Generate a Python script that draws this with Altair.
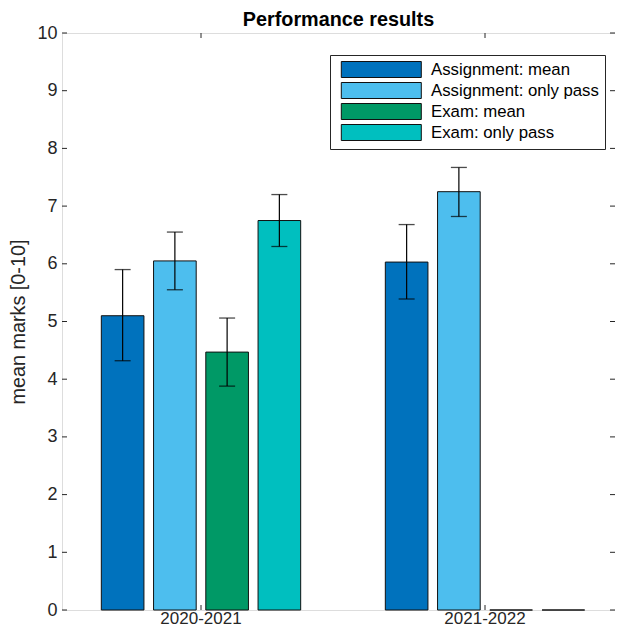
import altair as alt
import pandas as pd

years = ["2020-2021", "2021-2022"]
series = ["Assignment: mean", "Assignment: only pass", "Exam: mean", "Exam: only pass"]
colors = ["#0072BD", "#4DBEEE", "#009966", "#00BFBF"]

values_2020 = [5.10, 6.05, 4.47, 6.75]
values_2021 = [6.03, 7.25, 0.0, 0.0]
err_low_2020 = [4.32, 5.55, 3.88, 6.30]
err_high_2020 = [5.90, 6.55, 5.06, 7.20]
err_low_2021 = [5.39, 6.82, None, None]
err_high_2021 = [6.68, 7.67, None, None]

y_ticks = list(range(0, 11))

rows = []
for yr, vals, lo, hi in [
    (years[0], values_2020, err_low_2020, err_high_2020),
    (years[1], values_2021, err_low_2021, err_high_2021),
]:
    for s, v, l, h in zip(series, vals, lo, hi):
        rows.append({"year": yr, "series": s, "value": v, "lo": l, "hi": h})
df = pd.DataFrame(rows)
err_df = df.dropna(subset=["lo", "hi"])
ticks_df = pd.DataFrame({"t": y_ticks})
years_df = pd.DataFrame({"year": years})

FONT = "Liberation Sans"
W, H = 553, 577

xscale = alt.Scale(domain=years, range=[-3, 565], paddingInner=0, paddingOuter=0)
xenc = alt.X("year:N", sort=years, scale=xscale,
             axis=alt.Axis(title=None, labelAngle=0, tickSize=0, domain=False,
                           labelFontSize=17, labelFont=FONT, labelColor="#262626",
                           labelPadding=0))
xoff = alt.XOffset("series:N", sort=series,
                   scale=alt.Scale(domain=series, paddingInner=0.184, paddingOuter=0.81))
yscale = alt.Scale(domain=[0, 10], nice=False)

bars = alt.Chart(df).mark_bar(stroke="#111111", strokeWidth=1, opacity=1).encode(
    x=xenc,
    xOffset=xoff,
    y=alt.Y("value:Q", scale=yscale,
            axis=alt.Axis(values=y_ticks, format="d", tickSize=0, domain=False, grid=False,
                          labelFontSize=18, labelFont=FONT, labelColor="#262626",
                          labelPadding=5, title="mean marks [0-10]",
                          titleFontSize=19.8, titleFont=FONT, titleFontWeight="normal",
                          titleColor="#262626", titlePadding=8)),
    color=alt.Color("series:N", sort=series,
                    scale=alt.Scale(domain=series, range=colors),
                    legend=alt.Legend(title=None, orient="none", legendX=268, legendY=22,
                                      symbolType="M-0.4,-1H9.6V1H-0.4Z", symbolSize=256,
                                      symbolStrokeColor="#111111", symbolStrokeWidth=1,
                                      symbolOpacity=1,
                                      labelFontSize=16.8, labelFont=FONT, labelColor="black",
                                      labelLimit=400,
                                      strokeColor="#262626", fillColor="white",
                                      padding=6, rowPadding=0, labelOffset=78)),
)

err_rule = alt.Chart(err_df).mark_rule(color="black", strokeWidth=1.2).encode(
    x=alt.X("year:N", sort=years, scale=xscale),
    xOffset=xoff,
    y=alt.Y("lo:Q", scale=yscale),
    y2="hi:Q",
)
err_lo = alt.Chart(err_df).mark_tick(color="black", size=16, thickness=1.3,
                                     orient="horizontal").encode(
    x=alt.X("year:N", sort=years, scale=xscale),
    xOffset=xoff,
    y=alt.Y("lo:Q", scale=yscale),
)
err_hi = alt.Chart(err_df).mark_tick(color="black", size=16, thickness=1.3,
                                     orient="horizontal").encode(
    x=alt.X("year:N", sort=years, scale=xscale),
    xOffset=xoff,
    y=alt.Y("hi:Q", scale=yscale),
)

tick_style = dict(color="#262626", strokeWidth=1)
left_ticks = alt.Chart(ticks_df).mark_rule(**tick_style).encode(
    x=alt.value(0), x2=alt.value(5), y=alt.Y("t:Q", scale=yscale))
right_ticks = alt.Chart(ticks_df).mark_rule(**tick_style).encode(
    x=alt.value(W - 5), x2=alt.value(W), y=alt.Y("t:Q", scale=yscale))
bottom_ticks = alt.Chart(years_df).mark_rule(**tick_style).encode(
    x=alt.X("year:N", sort=years, scale=xscale), y=alt.value(H), y2=alt.value(H - 5))
top_ticks = alt.Chart(years_df).mark_rule(**tick_style).encode(
    x=alt.X("year:N", sort=years, scale=xscale), y=alt.value(0), y2=alt.value(5))

chart = alt.layer(
    bars, err_rule, err_lo, err_hi, left_ticks, right_ticks, bottom_ticks, top_ticks
).properties(
    width=W, height=H,
    autosize=alt.AutoSizeParams(type="none"),
    padding={"left": 54, "top": 25, "right": 0, "bottom": 17},
    title=alt.TitleParams("Performance results", fontSize=19.8, fontWeight="bold",
                          font=FONT, color="black", offset=-6, anchor="middle"),
).configure_view(
    stroke="#262626", strokeWidth=1
).configure(background="white")

chart.save("out.html", embed_options={"renderer": "svg", "actions": False})
